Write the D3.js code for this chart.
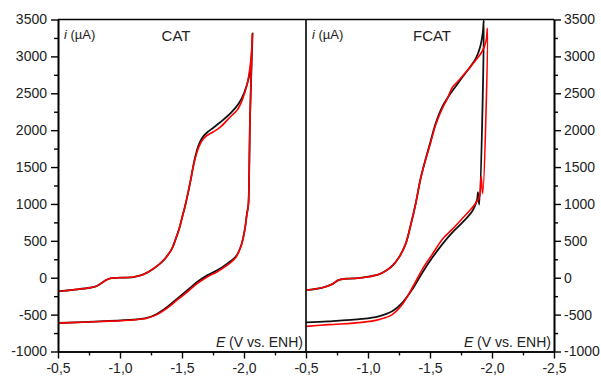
<!DOCTYPE html>
<html><head><meta charset="utf-8">
<script src="https://cdn.jsdelivr.net/npm/d3@7"></script>
<style>
html,body{margin:0;padding:0;background:#fff;}
svg{display:block;font-family:Arial,"Liberation Sans",sans-serif;}
</style></head>
<body>
<svg id="c" width="601" height="377"></svg>
<script>
// ---- data: [E (V vs. ENH), i (µA)] ----
const catBlack = [[-0.5,-186],[-0.622,-164],[-0.757,-136],[-0.811,-114],[-0.851,-73],[-0.892,-27],[-0.932,-5],[-1.0,0],[-1.108,9],[-1.189,45],[-1.27,123],[-1.351,236],[-1.419,395],[-1.45,530],[-1.478,668],[-1.503,830],[-1.527,986],[-1.554,1193],[-1.573,1350],[-1.589,1500],[-1.61,1660],[-1.635,1800],[-1.665,1900],[-1.7,1965],[-1.75,2030],[-1.811,2110],[-1.892,2230],[-1.959,2365],[-2.0,2500],[-2.041,2725],[-2.059,2950],[-2.069,3313],
  [-2.048,2138],[-2.041,1350],[-2.035,986],[-2.022,850],[-2.008,668],[-1.978,441],[-1.932,282],[-1.865,191],[-1.784,100],[-1.703,32],[-1.622,-59],[-1.541,-173],[-1.459,-286],[-1.378,-400],[-1.297,-491],[-1.216,-545],[-1.108,-568],[-0.838,-591],[-0.5,-614]];
const catRed = [[-0.5,-186],[-0.622,-164],[-0.757,-136],[-0.811,-114],[-0.851,-73],[-0.892,-27],[-0.932,-5],[-1.0,0],[-1.108,9],[-1.189,45],[-1.27,123],[-1.351,236],[-1.419,395],[-1.45,530],[-1.478,668],[-1.503,830],[-1.527,986],[-1.554,1193],[-1.573,1350],[-1.589,1490],[-1.61,1640],[-1.635,1770],[-1.665,1865],[-1.7,1925],[-1.75,1975],[-1.811,2045],[-1.892,2185],[-1.946,2275],[-1.986,2410],[-2.027,2635],[-2.049,2860],[-2.062,3086],[-2.067,3300],
  [-2.048,2138],[-2.041,1350],[-2.035,986],[-2.022,850],[-2.008,668],[-1.978,441],[-1.932,270],[-1.865,170],[-1.784,80],[-1.703,10],[-1.622,-80],[-1.541,-195],[-1.459,-305],[-1.378,-415],[-1.297,-500],[-1.216,-550],[-1.108,-572],[-0.838,-594],[-0.5,-616]];
const fcatBlack = [[-0.5,-168],[-0.627,-136],[-0.708,-91],[-0.762,-32],[-0.816,-14],[-0.897,-9],[-1.005,14],[-1.086,45],[-1.141,91],[-1.195,159],[-1.249,273],[-1.303,455],[-1.343,705],[-1.384,1000],[-1.424,1341],[-1.46,1580],[-1.5,1820],[-1.546,2094],[-1.6,2320],[-1.654,2470],[-1.708,2595],[-1.762,2720],[-1.816,2838],[-1.87,2973],[-1.905,3131],[-1.925,3311],[-1.934,3490],
  [-1.897,990],[-1.887,1160],[-1.88,1060],[-1.843,909],[-1.762,750],[-1.681,614],[-1.6,455],[-1.519,273],[-1.438,68],[-1.357,-159],[-1.276,-341],[-1.195,-455],[-1.086,-523],[-0.951,-559],[-0.681,-591],[-0.5,-605]];
const fcatRed = [[-0.5,-168],[-0.627,-136],[-0.708,-91],[-0.762,-32],[-0.816,-14],[-0.897,-9],[-1.005,14],[-1.086,45],[-1.141,91],[-1.195,159],[-1.249,273],[-1.303,455],[-1.343,705],[-1.384,1000],[-1.424,1341],[-1.46,1570],[-1.5,1800],[-1.546,2072],[-1.6,2297],[-1.641,2432],[-1.681,2581],[-1.735,2680],[-1.776,2761],[-1.816,2838],[-1.87,2950],[-1.919,3063],[-1.951,3198],[-1.963,3380],
  [-1.925,1140],[-1.912,1370],[-1.902,1120],[-1.892,1068],[-1.843,955],[-1.762,805],[-1.681,659],[-1.6,523],[-1.519,318],[-1.438,114],[-1.357,-136],[-1.276,-364],[-1.195,-500],[-1.086,-568],[-0.951,-605],[-0.681,-636],[-0.5,-659]];
const yTicks = [-1000,-500,0,500,1000,1500,2000,2500,3000,3500];
const xTicks = [-0.5,-1.0,-1.5,-2.0,-2.5];
const panels = [
  {title:"CAT", black:catBlack, red:catRed},
  {title:"FCAT", black:fcatBlack, red:fcatRed}
];

const svg = d3.select("#c");
const yTop = 19.5, yBot = 351.5;
const xs = [58, 306, 554];
const y = d3.scaleLinear().domain([-1000,3500]).range([yBot, yTop]);
const fmtX = d => d.toFixed(1).replace(".", ",");
const fmtY = d => String(d);
const minorY = d3.range(-1000, 3501, 250).filter(v => v % 500 !== 0);
const minorX = [-0.75,-1.25,-1.75,-2.25];

panels.forEach((p, k) => {
  const x = d3.scaleLinear().domain([-0.5,-2.5]).range([xs[k], xs[k+1]]);
  const g = svg.append("g");
  const clipId = "clip"+k;
  svg.append("clipPath").attr("id", clipId).append("rect")
    .attr("x", xs[k]).attr("y", yTop).attr("width", xs[k+1]-xs[k]).attr("height", yBot-yTop);
  const line = d3.line().x(d => x(d[0])).y(d => y(d[1])).curve(d3.curveCatmullRom.alpha(0.5));
  g.append("path").datum(p.black).attr("d", line).attr("fill","none")
    .attr("stroke","#111").attr("stroke-width",1.8).attr("clip-path","url(#"+clipId+")");
  g.append("path").datum(p.red).attr("d", line).attr("fill","none")
    .attr("stroke","#ff0000").attr("stroke-width",1.6).attr("clip-path","url(#"+clipId+")");

  const shown = k === 0 ? xTicks.slice(0,4) : xTicks;
  const xa = g.append("g").attr("transform", `translate(0,${yBot})`)
    .call(d3.axisBottom(x).tickValues(shown).tickFormat(fmtX).tickSizeOuter(0).tickSizeInner(7).tickPadding(5));
  const xm = g.append("g").attr("transform", `translate(0,${yBot})`)
    .call(d3.axisBottom(x).tickValues(minorX).tickFormat("").tickSizeOuter(0).tickSizeInner(4));
  [xa, xm].forEach(a => {
    a.select(".domain").attr("stroke","#000").attr("stroke-width",1.6);
    a.selectAll(".tick line").attr("stroke","#000").attr("stroke-width",1.4);
    a.selectAll(".tick text").attr("font-size",14).attr("fill","#222")
      .attr("font-family","Arial, 'Liberation Sans', sans-serif");
  });

  g.append("line").attr("x1", xs[k]).attr("x2", xs[k+1]).attr("y1", yTop).attr("y2", yTop)
    .attr("stroke","#000").attr("stroke-width",1.6);

  g.append("text").attr("x", k===0 ? 176 : 432).attr("y", 40.5)
    .attr("text-anchor","middle").attr("font-size",15).attr("fill","#222").text(p.title);
  const il = g.append("text").attr("x", xs[k]+6).attr("y", 38.5).attr("font-size",13).attr("fill","#222");
  il.append("tspan").attr("font-style","italic").text("i");
  il.append("tspan").text(" (µA)");
  const el = g.append("text").attr("x", xs[k+1]-3).attr("y", 347).attr("text-anchor","end")
    .attr("font-size",14).attr("fill","#222");
  el.append("tspan").attr("font-style","italic").text("E");
  el.append("tspan").text(" (V vs. ENH)");
});

const ya = svg.append("g").attr("transform", `translate(${xs[0]},0)`)
  .call(d3.axisLeft(y).tickValues(yTicks).tickFormat(fmtY).tickSizeOuter(0).tickSizeInner(7).tickPadding(4));
const yam = svg.append("g").attr("transform", `translate(${xs[0]},0)`)
  .call(d3.axisLeft(y).tickValues(minorY).tickFormat("").tickSizeOuter(0).tickSizeInner(4));
const yb = svg.append("g").attr("transform", `translate(${xs[2]},0)`)
  .call(d3.axisRight(y).tickValues(yTicks).tickFormat(fmtY).tickSizeOuter(0).tickSizeInner(7).tickPadding(3));
const ybm = svg.append("g").attr("transform", `translate(${xs[2]},0)`)
  .call(d3.axisRight(y).tickValues(minorY).tickFormat("").tickSizeOuter(0).tickSizeInner(4));
[ya, yam, yb, ybm].forEach(a => {
  a.select(".domain").attr("stroke","#000").attr("stroke-width",1.6);
  a.selectAll(".tick line").attr("stroke","#000").attr("stroke-width",1.4);
  a.selectAll(".tick text").attr("font-size",14).attr("fill","#222")
    .attr("font-family","Arial, 'Liberation Sans', sans-serif");
});
svg.append("line").attr("x1", xs[1]).attr("x2", xs[1]).attr("y1", yTop).attr("y2", yBot)
  .attr("stroke","#000").attr("stroke-width",1.6);
</script>
</body></html>
